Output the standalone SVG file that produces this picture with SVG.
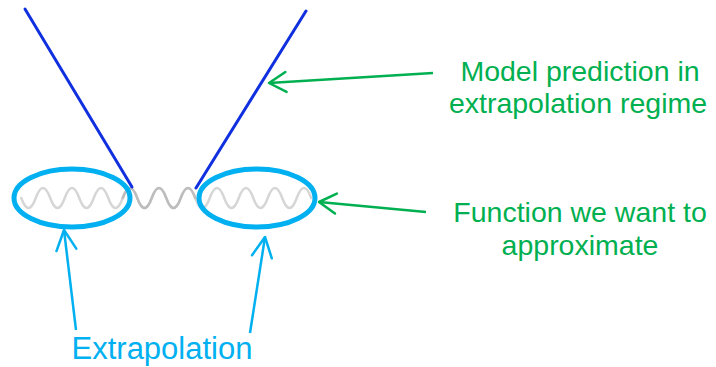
<svg xmlns="http://www.w3.org/2000/svg" width="716" height="367" viewBox="0 0 716 367">
<style>
.lbl{font-family:"Liberation Sans",Arial,sans-serif;text-anchor:middle}
.g{fill:#00b050;font-size:28.5px}
.c{fill:#00b0f0;font-size:31px}
.wave{fill:none;stroke-linecap:round;stroke-width:2.5}
.ell{fill:none;stroke:#00b0f0;stroke-width:5}
.model{stroke:#1030e0;stroke-width:3;stroke-linecap:round}
.ga{fill:none;stroke:#00b050;stroke-width:2.5;marker-end:url(#mg)}
.ca{fill:none;stroke:#00b0f0;stroke-width:2.5;marker-end:url(#mc)}
</style>
<defs>
<marker id="mg" markerUnits="userSpaceOnUse" markerWidth="24" markerHeight="24" viewBox="-20 -12 24 24" refX="0" refY="0" orient="auto">
<path d="M-17,-10 L0,0 L-17,10" fill="none" stroke="#00b050" stroke-width="2.5" stroke-linecap="round" stroke-linejoin="round"/>
</marker>
<marker id="mc" markerUnits="userSpaceOnUse" markerWidth="26" markerHeight="26" viewBox="-22 -12 26 24" refX="0" refY="0" orient="auto">
<path d="M-20,-10 L0,0 L-20,10" fill="none" stroke="#00b0f0" stroke-width="2.5" stroke-linecap="round" stroke-linejoin="round"/>
</marker>
</defs>
<g id="function">
<path class="wave" stroke="#d6d6d6" d="M21.25,198 q7.25,20 14.5,0 t14.5,0 t14.5,0 t14.5,0 t14.5,0 t14.5,0 t14.5,0 t14.5,0 t14.5,0 t14.5,0 t14.5,0 t14.5,0 t14.5,0 t14.5,0 t14.5,0 t14.5,0 t14.5,0 t14.5,0 t14.5,0 t14.5,0"/>
<path class="wave" stroke="#bdbdbd" d="M122.75,198 q7.25,-20 14.5,0 t14.5,0 t14.5,0 t14.5,0 t14.5,0"/>
</g>
<g id="model">
<line class="model" x1="25" y1="9" x2="132" y2="187"/>
<line class="model" x1="306" y1="11" x2="196" y2="188"/>
</g>
<g id="extrap-left"><ellipse class="ell" cx="72" cy="198" rx="58" ry="29"/></g>
<g id="extrap-right"><ellipse class="ell" cx="257" cy="198" rx="58" ry="29"/></g>
<g id="connectors">
<line class="ga" x1="433" y1="73" x2="269" y2="83"/>
<line class="ga" x1="426" y1="212" x2="319" y2="202"/>
<line class="ca" x1="76" y1="330" x2="64" y2="230"/>
<line class="ca" x1="250" y1="333" x2="265" y2="237"/>
</g>
<g id="label-model">
<text class="lbl g" x="580" y="81">Model prediction in</text>
<text class="lbl g" x="578" y="113">extrapolation regime</text>
</g>
<g id="label-function">
<text class="lbl g" x="580" y="222">Function we want to</text>
<text class="lbl g" x="580" y="255">approximate</text>
</g>
<g id="label-extrap">
<text class="lbl c" x="162" y="359">Extrapolation</text>
</g>
</svg>
